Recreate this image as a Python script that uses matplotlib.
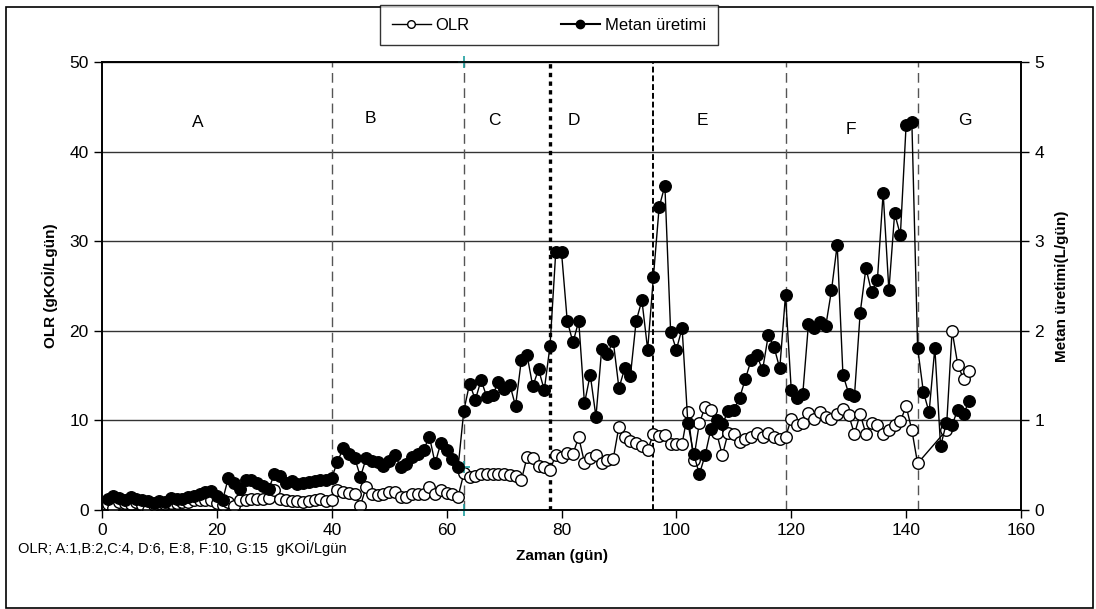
import matplotlib
matplotlib.use("Agg")
import matplotlib.pyplot as plt
from matplotlib.lines import Line2D
from matplotlib.patches import Rectangle

plt.rcParams['font.family'] = ['Liberation Sans', 'DejaVu Sans']

# ---------------- data ----------------
metan_days = list(range(1, 152))
metan = [1.2, 1.6, 1.3, 1.1, 1.4, 1.2, 1.1, 1.0, 0.8, 1.0,
         0.9, 1.3, 1.2, 1.2, 1.4, 1.6, 1.8, 2.0, 2.1, 1.6,
         1.1, 3.6, 3.0, 2.3, 3.4, 3.3, 3.0, 2.7, 2.3, 4.0,
         3.8, 3.0, 3.2, 2.9, 3.0, 3.1, 3.2, 3.3, 3.4, 3.6,
         5.4, 6.9, 6.2, 5.8, 3.7, 5.8, 5.5, 5.4, 4.9, 5.5,
         6.1, 4.8, 5.1, 5.9, 6.2, 6.7, 8.2, 5.2, 7.5, 6.7,
         5.7, 4.8, 11.1, 14.1, 12.3, 14.5, 12.6, 12.8, 14.3, 13.5,
         14.0, 11.6, 16.7, 17.3, 13.8, 15.7, 13.4, 18.3, 28.8, 28.8,
         21.1, 18.7, 21.1, 11.9, 15.1, 10.4, 18.0, 17.4, 18.9, 13.6,
         15.8, 15.0, 21.1, 23.4, 17.9, 26.0, 33.8, 36.2, 19.9, 17.9,
         20.3, 9.7, 6.3, 4.0, 6.1, 9.0, 10.0, 9.6, 11.0, 11.2,
         12.5, 14.6, 16.7, 17.3, 15.6, 19.5, 18.2, 15.8, 24.0, 13.4,
         12.5, 12.9, 20.8, 20.3, 21.0, 20.5, 24.5, 29.6, 15.1, 13.0,
         12.7, 22.0, 27.0, 24.3, 25.7, 35.4, 24.5, 33.1, 30.7, 43.0,
         43.3, 18.1, 13.2, 10.9, 18.1, 7.1, 9.7, 9.5, 11.2, 10.7,
         12.2]
metan = [v / 10.0 for v in metan]  # L/gün

olr_days = list(range(1, 143)) + [147, 148, 149, 150, 151]
olr = [0.7, 0.2, 0.9, 0.8, 0.7, 0.9, 0.6, 0.0, 0.6, 0.8,
       0.7, 0.8, 0.8, 0.9, 0.9, 1.1, 1.1, 1.1, 1.1, 0.8,
       0.6, 0.9, 0.4, 1.1, 1.1, 1.2, 1.2, 1.2, 1.3, 2.2,
       1.2, 1.1, 1.0, 1.0, 0.9, 1.0, 1.1, 1.2, 1.0, 1.1,
       2.2, 2.0, 1.9, 1.8, 0.5, 2.6, 1.8, 1.7, 1.8, 2.0,
       2.0, 1.5, 1.4, 1.8, 1.8, 1.8, 2.6, 1.8, 2.2, 1.9,
       1.8, 1.5, 4.1, 3.7, 3.8, 4.0, 4.0, 4.0, 4.0, 4.0,
       3.9, 3.8, 3.3, 5.9, 5.8, 4.9, 4.8, 4.5, 6.1, 5.9,
       6.4, 6.3, 8.1, 5.3, 5.8, 6.1, 5.2, 5.6, 5.7, 9.3,
       8.2, 7.7, 7.5, 7.1, 6.7, 8.5, 8.3, 8.4, 7.4, 7.4,
       7.4, 10.9, 5.6, 9.7, 11.5, 11.2, 8.6, 6.1, 8.6, 8.5,
       7.6, 7.9, 8.1, 8.6, 8.1, 8.6, 8.2, 7.9, 8.1, 10.2,
       9.5, 9.7, 10.8, 10.2, 10.9, 10.4, 10.2, 10.7, 11.3, 10.6,
       8.5, 10.7, 8.5, 9.7, 9.5, 8.5, 8.9, 9.5, 9.9, 11.6,
       8.9, 5.2, 8.9, 20.0, 16.2, 14.6, 15.5]

phase_days = [40, 63, 78, 96, 119, 142]
phase_labels = ['A', 'B', 'C', 'D', 'E', 'F', 'G']
phase_label_x = [16.6, 46.7, 68.3, 82.2, 104.5, 130.3, 150.2]
phase_label_y = [43.3, 43.7, 43.5, 43.5, 43.5, 42.5, 43.5]
xticks = [0, 20, 40, 60, 80, 100, 120, 140, 160]
yticks_left = [0, 10, 20, 30, 40, 50]
yticks_right = [0, 1, 2, 3, 4, 5]
cyan_marks_x = [63, 63, 63]
cyan_marks_y = [0, 4.8, 50]

# ---------------- figure ----------------
fig = plt.figure(figsize=(10.96, 6.09), dpi=100)
ax = fig.add_axes([102 / 1096, 1 - 510 / 609, (1021 - 102) / 1096, (510 - 62) / 609])

ax.set_xlim(0, 160)
ax.set_ylim(0, 50)
ax.set_xticks(xticks)
ax.set_yticks(yticks_left)
ax.tick_params(axis='both', direction='out', length=6, width=1, labelsize=12.5, colors='black')
ax.grid(axis='y', color='#333333', linewidth=1)
ax.set_axisbelow(True)
for s in ax.spines.values():
    s.set_linewidth(1.2)
    s.set_color('black')

# phase lines
styles = {40: ('#555555', (0, (7, 4)), 1.0),
          63: ('#555555', (0, (7, 4)), 1.0),
          78: ('black', (0, (1.3, 1.3)), 2.4),
          96: ('black', (0, (3, 1.5)), 1.4),
          119: ('#555555', (0, (7, 4)), 1.0),
          142: ('#555555', (0, (7, 4)), 1.0)}
for d in phase_days:
    c, ls, lw = styles[d]
    ax.axvline(d, color=c, linestyle=ls, linewidth=lw, zorder=1)

for lab, lx, ly in zip(phase_labels, phase_label_x, phase_label_y):
    ax.text(lx, ly, lab, ha='center', va='center', fontsize=12.5)

ax.plot(olr_days, olr, color='black', linewidth=1, marker='o', markersize=8.3,
        markerfacecolor='white', markeredgecolor='black', markeredgewidth=1, zorder=3)

ax.set_ylabel('OLR (gKOİ/Lgün)', fontsize=11, fontweight='bold', labelpad=8)
ax.set_xlabel('Zaman (gün)', fontsize=11, fontweight='bold', labelpad=8)

ax2 = ax.twinx()
ax2.set_ylim(0, 5)
ax2.set_yticks(yticks_right)
ax2.tick_params(axis='y', direction='out', length=6, width=1, labelsize=12.5)
ax2.plot(metan_days, metan, color='black', linewidth=1, marker='o', markersize=8.3,
         markerfacecolor='black', markeredgecolor='black', zorder=4)
ax2.set_ylabel('Metan üretimi(L/gün)', fontsize=11, fontweight='bold', labelpad=8)
for s in ax2.spines.values():
    s.set_linewidth(1.2)

ax.plot(cyan_marks_x, cyan_marks_y, linestyle='none', marker='+', color='#1f9e9e',
        markersize=8, markeredgewidth=1.2, clip_on=False, zorder=5)

# legend
h1 = Line2D([], [], color='black', linewidth=1, marker='o', markersize=5.5,
            markerfacecolor='white', markeredgecolor='black')
h2 = Line2D([], [], color='black', linewidth=1.5, marker='o', markersize=6,
            markerfacecolor='black', markeredgecolor='black')
leg = fig.legend([h1, h2], ['OLR', 'Metan üretimi'], loc='center',
                 bbox_to_anchor=(549 / 1096, 1 - 25 / 609), ncol=2, frameon=True,
                 fancybox=False, edgecolor='black', fontsize=12, handlelength=2.3,
                 columnspacing=5.5, borderpad=0.75, handletextpad=0.3, borderaxespad=0)
leg.get_frame().set_linewidth(1)

fig.text(18 / 1096, 1 - 548 / 609, 'OLR; A:1,B:2,C:4, D:6, E:8, F:10, G:15  gKOİ/Lgün',
         fontsize=10.5, ha='left', va='center')

# outer chart border
fig.add_artist(Rectangle((6 / 1096, 1 / 609), (1093 - 6) / 1096, (602 - 1) / 609,
                         transform=fig.transFigure, fill=False, edgecolor='black', linewidth=1.2))

fig.savefig('out.png', dpi=100)
